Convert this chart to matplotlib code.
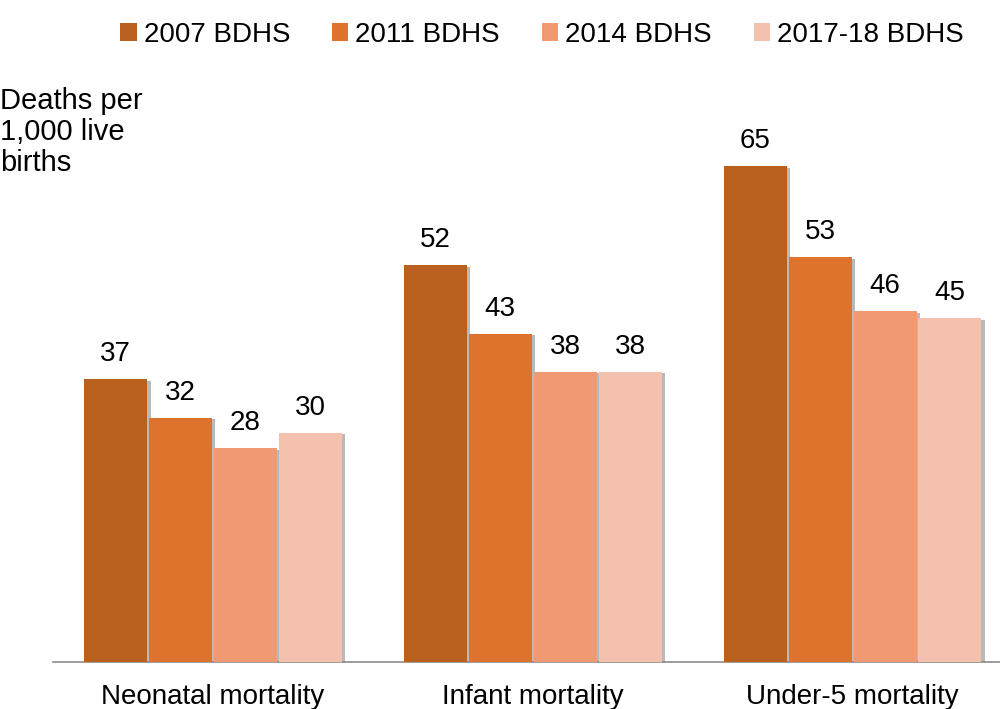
import matplotlib
matplotlib.use('Agg')
import matplotlib.pyplot as plt
import matplotlib.patheffects as pe
import numpy as np

plt.rcParams['font.family'] = ['Liberation Sans', 'DejaVu Sans']

categories = ['Neonatal mortality', 'Infant mortality', 'Under-5 mortality']
surveys = ['2007 BDHS', '2011 BDHS', '2014 BDHS', '2017-18 BDHS']
values = {
    '2007 BDHS': [37, 52, 65],
    '2011 BDHS': [32, 43, 53],
    '2014 BDHS': [28, 38, 46],
    '2017-18 BDHS': [30, 38, 45],
}
colors = ['#B9601F', '#DE732E', '#F09972', '#F4C1AF']

fig = plt.figure(figsize=(10, 7.09), dpi=100)
ax = fig.add_axes([0.053, 1 - 661.5 / 709, 0.947, (661.5 - 100) / 709])

x = np.arange(len(categories))
slot = 0.203
width = 0.197
shadow = [pe.SimplePatchShadow(offset=(2.5, -1.2), shadow_rgbFace='#808080', alpha=0.55),
          pe.Normal()]

for i, s in enumerate(surveys):
    pos = x + (i - 1.5) * slot
    rects = ax.bar(pos, values[s], width, color=colors[i], label=s, zorder=3)
    for r in rects:
        r.set_path_effects(shadow)
        ax.annotate('{}'.format(int(r.get_height())),
                    xy=(r.get_x() + r.get_width() / 2, r.get_height()),
                    xytext=(0, 13), textcoords='offset points',
                    ha='center', va='baseline', fontsize=20)

ax.set_xlim(-0.5, 2.461)
ax.set_ylim(0, (661.5 - 100) / 7.623)
ax.set_xticks(x)
ax.set_xticklabels(categories, fontsize=20)
ax.tick_params(axis='x', length=0, pad=16)
ax.set_yticks([])
for sp in ['top', 'right', 'left']:
    ax.spines[sp].set_visible(False)
ax.spines['bottom'].set_color('#8c8c8c')
ax.spines['bottom'].set_linewidth(1.2)
ax.spines['bottom'].set_zorder(2)

fig.text(0.0, 1 - 87 / 709, 'Deaths per\n1,000 live\nbirths', fontsize=21,
         ha='left', va='top', linespacing=1.13)

leg = fig.legend(loc='center', bbox_to_anchor=(0.542, 1 - 35 / 709), ncol=4, frameon=False,
                 fontsize=20, handlelength=0.6, handleheight=0.6, handletextpad=0.25,
                 columnspacing=1.5, borderaxespad=0)
for h in leg.legend_handles:
    h.set_path_effects([])

fig.savefig('out.png', dpi=100)
